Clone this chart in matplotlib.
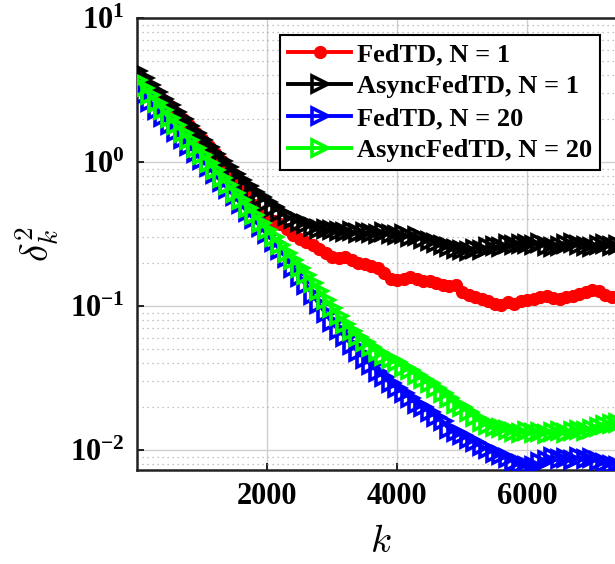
import matplotlib
matplotlib.use("Agg")
import matplotlib.pyplot as plt
import numpy as np

k = list(range(0, 7600, 100))

fedtd_n1 = [3.9, 3.6, 3.3, 3.0, 2.7, 2.45, 2.2, 2.0, 1.8, 1.6,
            1.45, 1.3, 1.15, 1.02, 0.91, 0.81, 0.72, 0.62, 0.50, 0.44,
            0.41, 0.39, 0.37, 0.34, 0.31, 0.29, 0.28, 0.265, 0.25, 0.235,
            0.22, 0.215, 0.22, 0.21, 0.20, 0.195, 0.19, 0.185, 0.17, 0.155,
            0.152, 0.155, 0.158, 0.154, 0.15, 0.148, 0.145, 0.14, 0.138, 0.14,
            0.125, 0.12, 0.116, 0.112, 0.108, 0.104, 0.102, 0.106, 0.104, 0.108,
            0.11, 0.112, 0.115, 0.118, 0.114, 0.112, 0.115, 0.118, 0.122, 0.126,
            0.13, 0.127, 0.12, 0.116, 0.118, 0.12]

async_n1 = [4.3, 3.85, 3.45, 3.08, 2.76, 2.47, 2.21, 1.98, 1.77, 1.58,
            1.42, 1.27, 1.14, 1.02, 0.92, 0.83, 0.75, 0.68, 0.62, 0.57,
            0.53, 0.49, 0.45, 0.42, 0.40, 0.385, 0.37, 0.355, 0.345, 0.34,
            0.335, 0.33, 0.325, 0.33, 0.32, 0.325, 0.32, 0.315, 0.325, 0.315,
            0.31, 0.315, 0.30, 0.305, 0.29, 0.285, 0.275, 0.265, 0.258, 0.25,
            0.245, 0.24, 0.25, 0.245, 0.255, 0.26, 0.255, 0.27, 0.265, 0.27,
            0.27, 0.265, 0.275, 0.26, 0.255, 0.26, 0.27, 0.275, 0.265, 0.26,
            0.255, 0.265, 0.27, 0.26, 0.265, 0.26]

fedtd_n20 = [3.2, 2.9, 2.6, 2.3, 2.05, 1.82, 1.62, 1.45, 1.30, 1.16,
             1.03, 0.92, 0.82, 0.73, 0.65, 0.58, 0.51, 0.45, 0.40, 0.355,
             0.315, 0.28, 0.245, 0.215, 0.185, 0.16, 0.14, 0.12, 0.103, 0.089,
             0.077, 0.068, 0.061, 0.054, 0.048, 0.043, 0.039, 0.035, 0.032, 0.029,
             0.027, 0.025, 0.023, 0.021, 0.020, 0.0185, 0.017, 0.0158, 0.0140, 0.0134,
             0.0128, 0.0120, 0.0113, 0.0106, 0.0101, 0.0096, 0.0092, 0.0088, 0.0083, 0.0080,
             0.0077, 0.0078, 0.0082, 0.0085, 0.0089, 0.0086, 0.0088, 0.0085, 0.0089, 0.0086,
             0.0088, 0.0084, 0.0081, 0.0079, 0.0078, 0.0080]

async_n20 = [3.7, 3.28, 2.91, 2.58, 2.29, 2.03, 1.80, 1.60, 1.42, 1.26,
             1.12, 0.99, 0.88, 0.78, 0.69, 0.61, 0.545, 0.483, 0.43, 0.38,
             0.337, 0.30, 0.265, 0.235, 0.21, 0.185, 0.163, 0.145, 0.127, 0.11,
             0.097, 0.085, 0.075, 0.067, 0.061, 0.056, 0.052, 0.048, 0.045, 0.043,
             0.041, 0.038, 0.036, 0.033, 0.031, 0.029, 0.027, 0.025, 0.023, 0.021,
             0.020, 0.0185, 0.017, 0.0157, 0.015, 0.0145, 0.0142, 0.0138, 0.0134, 0.0132,
             0.0135, 0.0131, 0.0134, 0.013, 0.0133, 0.0136, 0.0132, 0.0135, 0.0138, 0.0136,
             0.014, 0.0145, 0.0148, 0.0152, 0.0155, 0.0158]

labels = ["FedTD, N = 1", "AsyncFedTD, N = 1", "FedTD, N = 20", "AsyncFedTD, N = 20"]
xticks = [2000, 4000, 6000]
yticks = [1e-2, 1e-1, 1e0, 1e1]
ytick_labels = [r'$\mathregular{10^{-2}}$', r'$\mathregular{10^{-1}}$',
                r'$\mathregular{10^{0}}$', r'$\mathregular{10^{1}}$']

plt.rcParams['font.family'] = ['Liberation Serif', 'DejaVu Serif']
plt.rcParams['font.weight'] = 'bold'
plt.rcParams['mathtext.fontset'] = 'custom'
plt.rcParams['mathtext.rm'] = 'Liberation Serif:bold'
plt.rcParams['mathtext.bf'] = 'Liberation Serif:bold'
plt.rcParams['mathtext.it'] = 'Liberation Serif:italic:bold'

fig = plt.figure(figsize=(6.15, 5.64), dpi=100)
W, H = 615.0, 564.0
left, right, top, bottom = 137, 624.5, 18, 470
ax = fig.add_axes([left / W, (H - bottom) / H, (right - left) / W, (bottom - top) / H])

lw = 2.8
ax.plot(k, fedtd_n1, color='#ff0000', lw=lw, marker='o', ms=8.5, mfc='#ff0000', mec='#ff0000', label=labels[0], zorder=3)
ax.plot(k, async_n1, color='black', lw=lw, marker='>', ms=11, mfc='none', mec='black', mew=2.6, label=labels[1], zorder=4)
ax.plot(k, fedtd_n20, color='#0000ff', lw=lw, marker='>', ms=11, mfc='none', mec='#0000ff', mew=2.6, label=labels[2], zorder=5)
ax.plot(k, async_n20, color='#00ff00', lw=lw, marker='>', ms=11, mfc='none', mec='#00ff00', mew=2.6, label=labels[3], zorder=6)

ax.set_yscale('log')
ax.set_xlim(0, 7500)
ax.set_ylim(10 ** (-2 - 20 / 144.0), 10)
ax.set_xticks(xticks)
ax.set_xticklabels([str(t) for t in xticks])
ax.set_yticks(yticks)
ax.set_yticklabels(ytick_labels)

ax.grid(True, which='major', color='#d0d0d0', lw=1.0, ls='-')
ax.grid(True, which='minor', axis='y', color='#b0b0b0', lw=0.9, ls=(0, (1, 3)))
ax.set_axisbelow(True)

ax.tick_params(axis='both', which='major', direction='in', length=5, width=1.2, labelsize=22, pad=9)
ax.tick_params(axis='y', which='minor', direction='in', length=0)
ax.tick_params(axis='x', which='minor', length=0)
for lab in ax.get_xticklabels():
    lab.set_fontweight('bold')

for s in ['left', 'bottom', 'top']:
    ax.spines[s].set_linewidth(1.8)
    ax.spines[s].set_color('#222222')
ax.spines['right'].set_visible(False)

ax.set_xlabel(r'$k$', fontsize=28, labelpad=9, math_fontfamily='cm')
ax.set_ylabel(r'$\delta_k^2$', fontsize=28, labelpad=6, math_fontfamily='cm')

leg = ax.legend(loc='upper left', bbox_to_anchor=((280 - left) / (right - left), 1 - (35 - top) / (bottom - top)),
                prop={'family': 'Liberation Serif', 'weight': 'bold', 'size': 19},
                frameon=True, fancybox=False, edgecolor='black', framealpha=1,
                handlelength=2.4, handletextpad=0.2, borderpad=0.3, labelspacing=0.32,
                borderaxespad=0, markerscale=1.0)
leg.get_frame().set_linewidth(1.5)

fig.savefig('out.png', dpi=100)
